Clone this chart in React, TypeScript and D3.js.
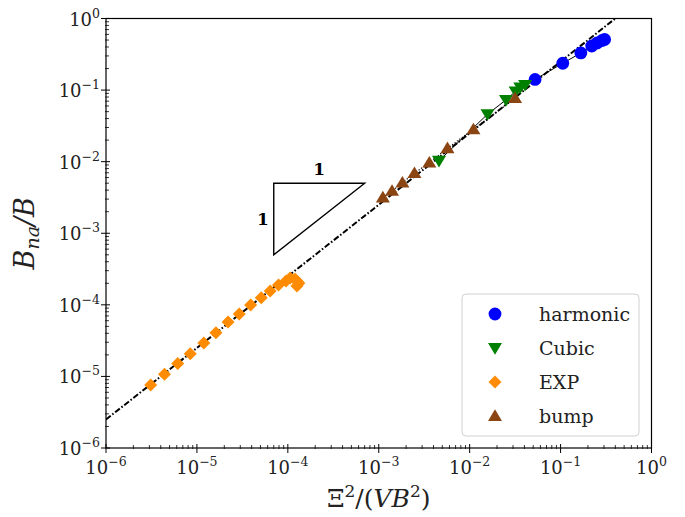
import React from "react";
import * as d3 from "d3";

const harmonicX = [0.0524, 0.1057, 0.167, 0.22, 0.252, 0.286, 0.305];
const harmonicY = [0.141, 0.237, 0.33, 0.413, 0.455, 0.493, 0.509];

const cubicX = [0.0046, 0.0157, 0.0251, 0.032, 0.036, 0.0407];
const cubicY = [0.0103, 0.046, 0.073, 0.096, 0.109, 0.118];

const expX = [3.1e-6, 4.4e-6, 6.15e-6, 8.45e-6, 1.19e-5, 1.62e-5, 2.2e-5, 2.92e-5, 3.9e-5, 5.1e-5, 6.4e-5, 7.9e-5, 9.55e-5, 1.06e-4, 1.2e-4, 1.29e-4, 1.26e-4, 1.32e-4];
const expY = [7.6e-6, 1.07e-5, 1.51e-5, 2.08e-5, 2.94e-5, 4.09e-5, 5.77e-5, 7.46e-5, 9.97e-5, 1.26e-4, 1.56e-4, 1.9e-4, 2.16e-4, 2.38e-4, 2.3e-4, 2.09e-4, 1.84e-4, 2.0e-4];

const bumpX = [1.11e-3, 1.4e-3, 1.82e-3, 2.47e-3, 3.6e-3, 5.7e-3, 1.1e-2, 3.16e-2];
const bumpY = [3.16e-3, 3.9e-3, 5.09e-3, 6.9e-3, 9.7e-3, 1.54e-2, 2.83e-2, 7.7e-2];

const refCoef = 2.5; // y = 2.5 x
const refX = [1e-6, 0.4];

const triX = [7e-5, 7e-4];
const triY = [5e-4, 5e-3];

const tickExps = [-6, -5, -4, -3, -2, -1, 0];
const seriesNames = ["harmonic", "Cubic", "EXP", "bump"];
const seriesColors = ["#0000ff", "#008000", "#ff8c00", "#8b4513"];

const W = 685, H = 517;
const L = 106, R = 651.5, T = 18.5, B = 448;
const FONT = "DejaVu Serif";

function Marker({ kind, x, y, color }: { kind: number; x: number; y: number; color: string }) {
  if (kind === 0) return <circle cx={x} cy={y} r={6.4} fill={color} />;
  if (kind === 1) {
    const s = 7;
    return <path d={`M${x - s},${y - s * 0.7}L${x + s},${y - s * 0.7}L${x},${y + s * 0.95}Z`} fill={color} />;
  }
  if (kind === 2) {
    const s = 6.5;
    return <path d={`M${x},${y - s}L${x + s},${y}L${x},${y + s}L${x - s},${y}Z`} fill={color} />;
  }
  const s = 7;
  return <path d={`M${x - s},${y + s * 0.7}L${x + s},${y + s * 0.7}L${x},${y - s * 0.95}Z`} fill={color} />;
}

export default function App() {
  const x = d3.scaleLog().domain([1e-6, 1]).range([L, R]);
  const y = d3.scaleLog().domain([1e-6, 1]).range([B, T]);
  const line = d3.line<[number, number]>().x((d) => x(d[0])).y((d) => y(d[1]));

  const minor: number[] = [];
  for (let e = -6; e < 0; e++) for (let k = 2; k <= 9; k++) minor.push(k * Math.pow(10, e));

  const series = [
    [harmonicX, harmonicY],
    [cubicX, cubicY],
    [expX, expY],
    [bumpX, bumpY],
  ];

  const refPts: [number, number][] = refX.map((v) => [v, refCoef * v]);
  const zip = (a: number[], b: number[]) => a.map((v, i) => [v, b[i]] as [number, number]);

  return (
    <svg width={W} height={H} style={{ position: "absolute", left: 0, top: 0, background: "#fff" }} fontFamily={FONT}>
      <defs>
        <clipPath id="plot">
          <rect x={L} y={T} width={R - L} height={B - T} />
        </clipPath>
      </defs>
      <g clipPath="url(#plot)">
        <path d={line(refPts) || ""} fill="none" stroke="#000" strokeWidth={2} strokeDasharray="6,2,1.6,2" />
        <path d={line(zip(harmonicX, harmonicY)) || ""} fill="none" stroke="#000" strokeWidth={1} />
        <path d={line(zip(cubicX, cubicY)) || ""} fill="none" stroke="#000" strokeWidth={1} />
        <path d={line(zip(bumpX, bumpY)) || ""} fill="none" stroke="#000" strokeWidth={1.2} strokeDasharray="1.2,1.8" />
        {series.map(([xs, ys], si) =>
          xs.map((v, i) => <Marker key={`${si}-${i}`} kind={si} x={x(v)} y={y(ys[i])} color={seriesColors[si]} />)
        )}
        <path
          d={`M${x(triX[0])},${y(triY[1])}L${x(triX[1])},${y(triY[1])}L${x(triX[0])},${y(triY[0])}Z`}
          fill="none"
          stroke="#000"
          strokeWidth={1.4}
        />
      </g>
      <text x={(x(triX[0]) + x(triX[1])) / 2} y={y(triY[1]) - 8} fontSize={17} fontWeight="bold" textAnchor="middle">1</text>
      <text x={x(triX[0]) - 5} y={(y(triY[0]) + y(triY[1])) / 2 + 6} fontSize={17} fontWeight="bold" textAnchor="end">1</text>

      <rect x={L} y={T} width={R - L} height={B - T} fill="none" stroke="#000" strokeWidth={1.2} />

      {tickExps.map((e) => (
        <line key={`xt${e}`} x1={x(Math.pow(10, e))} x2={x(Math.pow(10, e))} y1={B - 4} y2={B + 5} stroke="#000" strokeWidth={1} />
      ))}
      {minor.map((v, i) => (
        <line key={`xm${i}`} x1={x(v)} x2={x(v)} y1={B - 3} y2={B + 1} stroke="#000" strokeWidth={0.8} />
      ))}
      {tickExps.map((e) => (
        <text key={`xl${e}`} x={x(Math.pow(10, e))} y={B + 26} fontSize={18} textAnchor="middle" fill="#222">
          10<tspan dy={-8} fontSize={12.5}>{e < 0 ? `\u2212${-e}` : `${e}`}</tspan>
        </text>
      ))}

      {tickExps.map((e) => (
        <line key={`yt${e}`} x1={L - 5} x2={L + 4} y1={y(Math.pow(10, e))} y2={y(Math.pow(10, e))} stroke="#000" strokeWidth={1} />
      ))}
      {minor.map((v, i) => (
        <line key={`ym${i}`} x1={L - 1} x2={L + 3} y1={y(v)} y2={y(v)} stroke="#000" strokeWidth={0.8} />
      ))}
      {tickExps.map((e) => (
        <text key={`yl${e}`} x={L - 6} y={y(Math.pow(10, e)) + 7} fontSize={18} textAnchor="end" fill="#222">
          10<tspan dy={-8} fontSize={12.5}>{e < 0 ? `\u2212${-e}` : `${e}`}</tspan>
        </text>
      ))}

      <text x={(L + R) / 2} y={507} fontSize={25} textAnchor="middle" fill="#222">
        Ξ<tspan dy={-10} fontSize={17}>2</tspan>
        <tspan dy={10}>/(</tspan>
        <tspan fontStyle="italic">VB</tspan>
        <tspan dy={-10} fontSize={17}>2</tspan>
        <tspan dy={10}>)</tspan>
      </text>
      <text transform={`translate(34,${(T + B) / 2}) rotate(-90)`} fontSize={27} textAnchor="middle" fill="#222">
        <tspan fontStyle="italic">B</tspan>
        <tspan fontStyle="italic" dy={5} fontSize={19}>na</tspan>
        <tspan dy={-5} fontStyle="italic">/B</tspan>
      </text>

      <rect x={462} y={294} width={177} height={142} rx={4} fill="#fff" stroke="#d0d0d0" strokeWidth={1} />
      {seriesNames.map((n, i) => (
        <g key={n}>
          <Marker kind={i} x={495} y={314 + i * 34} color={seriesColors[i]} />
          <text x={539} y={314 + i * 34 + 7} fontSize={19} fill="#222">{n}</text>
        </g>
      ))}
    </svg>
  );
}
